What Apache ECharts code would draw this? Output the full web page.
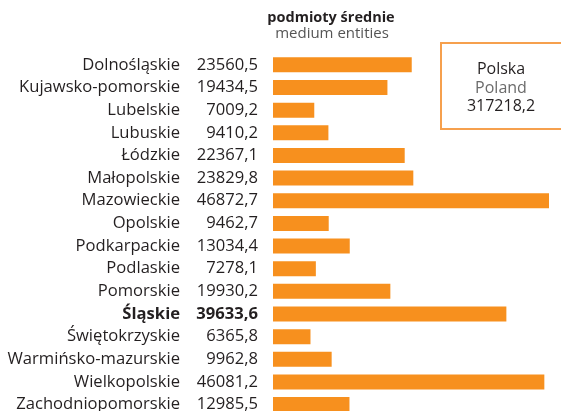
<!DOCTYPE html>
<html><head><meta charset="utf-8">
<script src="https://cdn.jsdelivr.net/npm/echarts@6/dist/echarts.min.js"></script>
<style>html,body{margin:0;padding:0;background:#fff;overflow:hidden}#c{width:561px;height:430px}</style>
</head><body><div id="c"></div>
<script>
const categories = ["Dolnośląskie","Kujawsko-pomorskie","Lubelskie","Lubuskie","Łódzkie","Małopolskie","Mazowieckie","Opolskie","Podkarpackie","Podlaskie","Pomorskie","Śląskie","Świętokrzyskie","Warmińsko-mazurskie","Wielkopolskie","Zachodniopomorskie"];
const values = [23560.5,19434.5,7009.2,9410.2,22367.1,23829.8,46872.7,9462.7,13034.4,7278.1,19930.2,39633.6,6365.8,9962.8,46081.2,12985.5];
const highlighted = "Śląskie";
const titleText = "podmioty średnie";
const subtitleText = "medium entities";
const totalLabel = ["Polska","Poland"];
const totalValue = 317218.2;

const fmt = v => v.toFixed(1).replace('.', ',');
const FONT = '"Open Sans", sans-serif';
const FS = 16.6;
const chart = echarts.init(document.getElementById('c'));
chart.setOption({
  animation: false,
  grid: {left: 273, top: 53.5, width: 276.75, height: 362.4, containLabel: false},
  xAxis: {type: 'value', min: 0, max: 47000, show: false},
  yAxis: {
    type: 'category', data: categories, inverse: true,
    axisLine: {show: false}, axisTick: {show: false}, splitLine: {show: false},
    axisLabel: {
      margin: 15, color: '#231f20', fontFamily: FONT, fontSize: FS,
      formatter: (name, i) => {
        const b = name === highlighted;
        return '{' + (b ? 'nb' : 'n') + '|' + name + '}{' + (b ? 'vb' : 'v') + '|' + fmt(values[i]) + '}';
      },
      rich: {
        n: {fontFamily: FONT, fontSize: FS, color: '#231f20'},
        nb: {fontFamily: FONT, fontSize: FS, fontWeight: 'bold', color: '#231f20'},
        v: {fontFamily: FONT, fontSize: FS, color: '#231f20', width: 78, align: 'right'},
        vb: {fontFamily: FONT, fontSize: FS, fontWeight: 'bold', color: '#231f20', width: 78, align: 'right'}
      }
    }
  },
  series: [{
    type: 'bar', data: values, barWidth: 15,
    itemStyle: {color: '#F7901E'}
  }],
  graphic: [
    {type: 'text', x: 331, y: 18, style: {text: titleText, fontFamily: FONT, fontSize: 14.5, fontWeight: 'bold', fill: '#231f20', align: 'center', verticalAlign: 'middle'}},
    {type: 'text', x: 332, y: 34, style: {text: subtitleText, fontFamily: FONT, fontSize: 15, fill: '#555', align: 'center', verticalAlign: 'middle'}},
    {type: 'rect', shape: {x: 441, y: 43, width: 150, height: 86}, style: {fill: 'none', stroke: '#F6A04D', lineWidth: 2}},
    {type: 'text', x: 501, y: 69, style: {text: totalLabel[0], fontFamily: FONT, fontSize: 16, fill: '#231f20', align: 'center', verticalAlign: 'middle'}},
    {type: 'text', x: 501, y: 88, style: {text: totalLabel[1], fontFamily: FONT, fontSize: 16, fill: '#6b6b6b', align: 'center', verticalAlign: 'middle'}},
    {type: 'text', x: 501, y: 106, style: {text: fmt(totalValue), fontFamily: FONT, fontSize: 16, fill: '#231f20', align: 'center', verticalAlign: 'middle'}}
  ]
});
</script></body></html>
